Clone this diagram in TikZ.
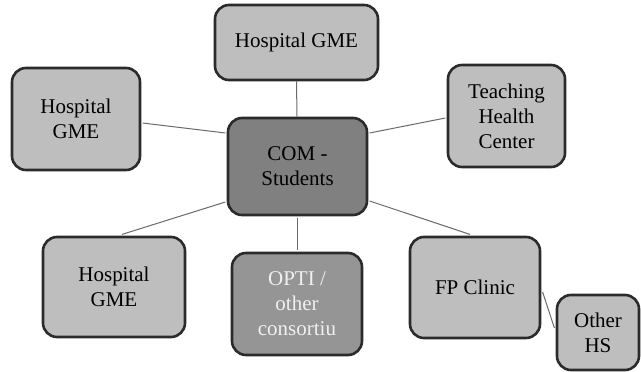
\documentclass[tikz,border=0pt]{standalone}
\usepackage{fontspec}
\setmainfont{LiberationSerif}[Extension=.ttf, UprightFont=*-Regular, BoldFont=*-Bold]
\usetikzlibrary{calc}
\definecolor{boxfill}{HTML}{BEBEBE}
\definecolor{centerfill}{HTML}{808080}
\definecolor{optifill}{HTML}{959595}
\definecolor{boxline}{HTML}{2B2B2B}
\definecolor{linkcol}{HTML}{6A6A6A}
\definecolor{opttext}{HTML}{F0F0F0}
\tikzset{
  gbox/.style={draw=boxline, line width=2.6pt, rounded corners=14pt, fill=boxfill,
    inner sep=0pt, align=center, font=\rmfamily\fontsize{21}{25}\selectfont},
  link/.style={draw=linkcol, line width=1pt},
}
\begin{document}
\begin{tikzpicture}[x=1pt,y=-1pt]
\useasboundingbox[fill=white] (0,0) rectangle (641,372);
\node[gbox, minimum width=163pt, minimum height=75pt] (T) at (296.5,42.5) {Hospital GME};
\node[gbox, fill=centerfill, minimum width=139pt, minimum height=97pt] (C) at (297.5,166.5) {COM -\\Students};
\node[gbox, fill=optifill, text=opttext, minimum width=130pt, minimum height=102pt] (O) at (297,304) {OPTI /\\other\\consortiu};
\node[gbox, minimum width=130pt, minimum height=101pt] (F) at (475,287.5) {FP Clinic};
\node[gbox, minimum width=82pt, minimum height=75pt] (H) at (598,332.5) {Other\\HS};
\node[gbox, minimum width=128pt, minimum height=102pt] (L) at (76,119) {Hospital\\GME};
\node[gbox, minimum width=117pt, minimum height=102pt] (TH) at (506.5,116) {Teaching\\Health\\Center};
\node[gbox, minimum width=142pt, minimum height=100pt] (BL) at (114,287) {Hospital\\GME};
\draw[link] (T.south) -- ([xshift=-0.5pt]C.north);
\draw[link] ($(L.east)+(1.3,4)$) -- ($(C.west)+(-1.3,-33.5)$);
\draw[link] ($(C.east)+(1.3,-33.5)$) -- ($(TH.west)+(-1.3,2)$);
\draw[link] ($(C.west)+(-1.3,35.5)$) -- ($(BL.north)+(8,-1.3)$);
\draw[link] ($(C.east)+(1.3,34.5)$) -- ($(F.north)+(-5,-1.3)$);
\draw[link] ([xshift=-0.5pt,yshift=-1.3pt]C.south) -- ([yshift=1.3pt]O.north);
\draw[link] ($(F.east)+(1.3,4.5)$) -- ($(H.west)+(-1.3,-4.5)$);
\end{tikzpicture}
\end{document}
